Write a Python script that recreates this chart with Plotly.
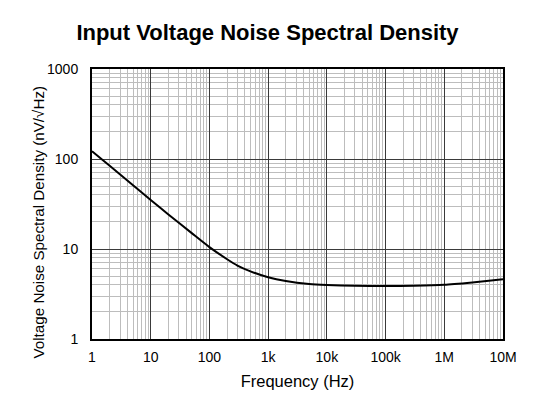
import plotly.graph_objects as go

freq_hz = [1, 2, 5, 10, 20, 50, 100, 200, 300, 500, 1e3, 2e3, 5e3,
           1e4, 3e4, 1e5, 3e5, 1e6, 3e6, 1e7]
noise_nv = [122, 84, 51, 35, 24.2, 15.0, 10.5, 7.7, 6.55, 5.65, 4.85, 4.4, 4.08,
            3.98, 3.9, 3.87, 3.9, 4.0, 4.25, 4.6]

x_tickvals = [1, 10, 100, 1e3, 1e4, 1e5, 1e6, 1e7]
x_ticktext = ["1", "10", "100", "1k", "10k", "100k", "1M", "10M"]
y_tickvals = [1, 10, 100, 1000]
y_ticktext = ["1", "10", "100", "1000"]

x_minor = [m * d for d in x_tickvals[:-1] for m in range(2, 10)]
y_minor = [m * d for d in y_tickvals[:-1] for m in range(2, 10)]

font_family = "Liberation Sans, Arial, sans-serif"

# page has an 8px body margin; compensate so the plot lands where the reference has it
W, H = 541, 395
ML, MR, MT, MB = 84, 46, 61, 64
PW, PH = W - ML - MR, H - MT - MB

fig = go.Figure()
fig.add_trace(go.Scatter(
    x=freq_hz, y=noise_nv, mode="lines",
    line=dict(color="black", width=2, shape="spline", smoothing=0.6),
    showlegend=False, hoverinfo="skip",
))

axis_common = dict(
    type="log",
    showline=True, linecolor="black", linewidth=2, mirror=True,
    showgrid=True, gridcolor="#3a3a3a", gridwidth=1,
    ticks="", zeroline=False, automargin=False,
    tickfont=dict(family=font_family, size=14, color="black"),
)

fig.update_xaxes(
    **axis_common,
    range=[0, 7],
    tickvals=x_tickvals, ticktext=x_ticktext,
    minor=dict(tickvals=x_minor, showgrid=True, gridcolor="#bdbdbd", gridwidth=1, ticks=""),
    title=dict(text="Frequency (Hz)", font=dict(family=font_family, size=16.5, color="black"), standoff=12),
    ticklabelstandoff=4,
)
fig.update_yaxes(
    **axis_common,
    range=[0, 3],
    tickvals=y_tickvals, ticktext=y_ticktext,
    minor=dict(tickvals=y_minor, showgrid=True, gridcolor="#bdbdbd", gridwidth=1, ticks=""),
    ticklabelstandoff=9,
)

fig.add_annotation(
    text="Voltage Noise Spectral Density (nV/\u221aHz)",
    font=dict(family=font_family, size=15.2, color="black"),
    textangle=-90, showarrow=False,
    xref="paper", yref="paper",
    x=(29.5 - ML) / PW, y=1 - (214 - MT) / PH,
    xanchor="center", yanchor="middle",
)

fig.update_layout(
    width=W, height=H,
    margin=dict(l=ML, r=MR, t=MT, b=MB),
    paper_bgcolor="white", plot_bgcolor="white",
    title=dict(text="<b>Input Voltage Noise Spectral Density</b>",
               font=dict(family=font_family, size=22, color="black"),
               x=259.5 / W, xref="container", xanchor="center",
               y=1 - 24 / H, yref="container", yanchor="middle"),
)

fig.write_html("out.html")
